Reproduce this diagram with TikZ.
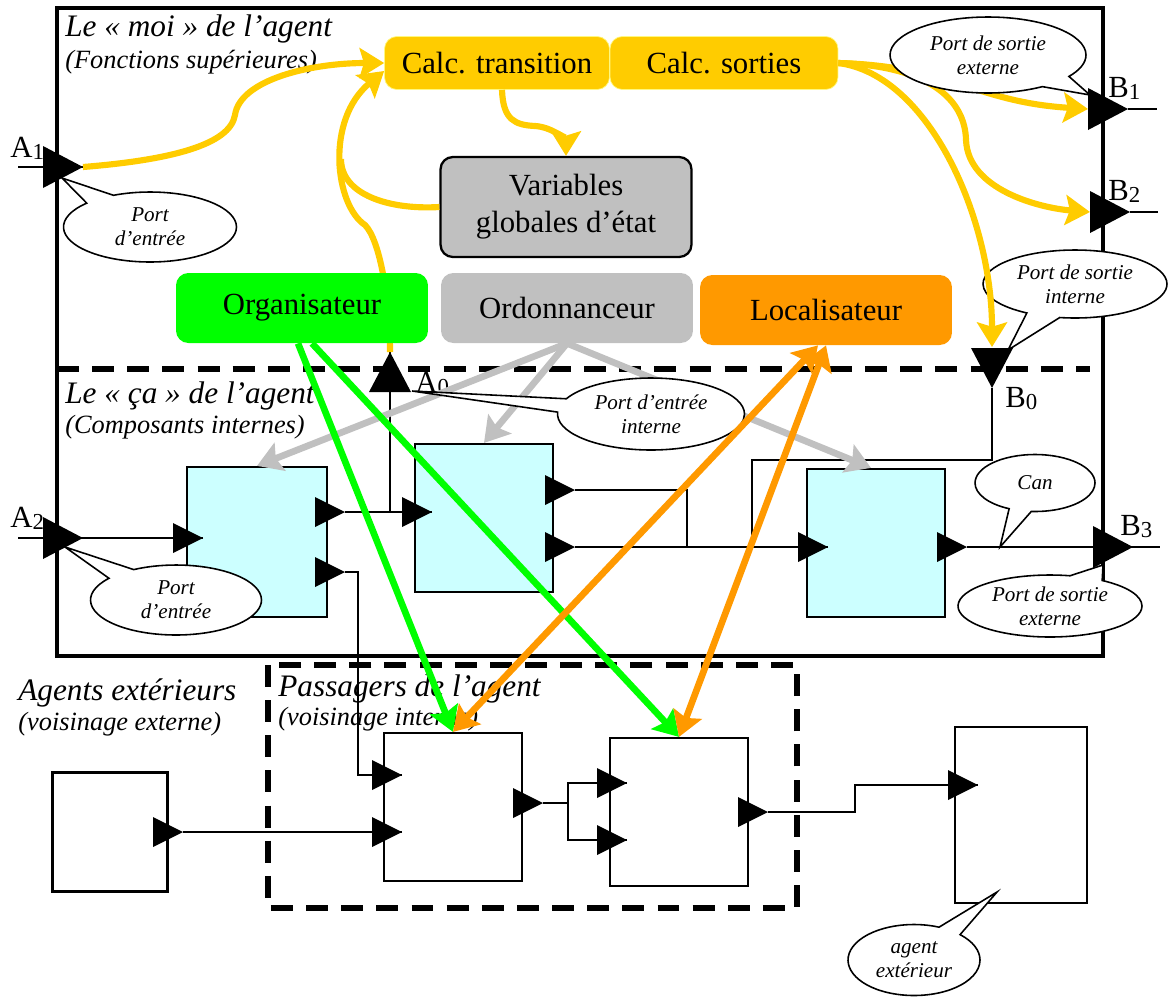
\documentclass[tikz,border=0pt]{standalone}
\usepackage{fontspec}
\setmainfont{Liberation Serif}
\usetikzlibrary{arrows.meta, shapes.callouts}
\definecolor{jauneCalc}{RGB}{255,204,0}
\definecolor{vertOrga}{RGB}{0,255,0}
\definecolor{orangeLoc}{RGB}{255,153,0}
\definecolor{grisOrdo}{RGB}{192,192,192}
\definecolor{cyanComp}{RGB}{204,255,255}
\newcommand{\indice}[1]{\raisebox{-1.5pt}{\fontsize{13}{13}\selectfont #1}}

\begin{document}
\begin{tikzpicture}[x=0.02cm, y=-0.02cm,
    fonction/.style={rounded corners=7pt, inner sep=0pt, minimum width=5.04cm, minimum height=1.4cm, align=center, font=\fontsize{17.5}{21}\selectfont},
    composant/.style={draw, line width=1.3pt, fill=cyanComp, minimum width=2.76cm, minimum height=2.96cm},
    agentbox/.style={draw, line width=1.3pt, fill=white, minimum width=2.76cm, minimum height=2.96cm},
    bulle/.style={ellipse callout, draw, fill=white, line width=0.9pt, callout pointer arc=22, inner sep=0pt, align=center, font=\fontsize{12}{13.5}\selectfont\itshape},
    titre/.style={anchor=base west, inner sep=0pt, font=\fontsize{17.8}{20}\selectfont\itshape},
    soustitre/.style={anchor=base west, inner sep=0pt, font=\fontsize{15}{18}\selectfont\itshape},
    port/.style={anchor=base west, inner sep=0pt, font=\fontsize{17.5}{20}\selectfont},
    fil/.style={line width=1pt},
    tiret/.style={line width=3.2pt, dash pattern=on 12.5pt off 7.5pt},
    jaune/.style={jauneCalc, line width=3.5pt, -{Stealth[length=14pt, width=17pt, inset=2.5pt]}},
    gris/.style={grisOrdo, line width=3.8pt, -{Stealth[length=14pt, width=17pt, inset=2.5pt]}},
    vert/.style={vertOrga, line width=3.8pt, -{Stealth[length=14pt, width=17pt, inset=2.5pt]}},
    orange/.style={orangeLoc, line width=3.8pt, {Stealth[length=14pt, width=17pt, inset=2.5pt]}-{Stealth[length=14pt, width=17pt, inset=2.5pt]}},
    portd/.pic={\fill (0,0) -- (-40,-21) -- (-40,21) -- cycle;},
    porth/.pic={\fill (0,0) -- (-21,40) -- (21,40) -- cycle;},
    portb/.pic={\fill (0,0) -- (-21,-40) -- (21,-40) -- cycle;},
    broche/.pic={\fill (0,0) -- (-30,-15) -- (-30,15) -- cycle;}]
    \useasboundingbox (0,0) rectangle (1168,998);

    % cadres
    \draw[line width=2.7pt] (57,8) rectangle (1103,656);
    \draw[tiret] (57,369) -- (1090,369);
    \draw[tiret] (268,665) rectangle (797,908);

    % titres
    \node[titre] (tMoi) at (65,36) {Le «~moi~» de l’agent};
    \node[soustitre] (sMoi) at (65,68) {(Fonctions supérieures)};
    \node[titre] (tCa) at (65,403) {Le «~ça~» de l’agent};
    \node[soustitre] (sCa) at (65,433) {(Composants internes)};
    \node[titre] (tExt) at (18,700) {Agents extérieurs};
    \node[soustitre] (sExt) at (18,730) {(voisinage externe)};
    \node[titre] (tPas) at (278,696) {Passagers de l’agent};
    \node[soustitre] (sPas) at (278,725) {(voisinage interne)};

    % composants, passagers, agents exterieurs
    \node[composant, minimum width=2.8cm, minimum height=3cm] (comp1) at (257,542) {};
    \node[composant] (comp2) at (484,518) {};
    \node[composant] (comp3) at (876,543) {};
    \node[agentbox] (pass1) at (453,807) {};
    \node[agentbox] (pass2) at (679,812) {};
    \node[agentbox, minimum width=2.3cm, minimum height=2.38cm] (ext1) at (110,832) {};
    \node[agentbox, minimum width=2.64cm, minimum height=3.52cm] (ext2) at (1021,815) {};

    % ports
    \coordinate (A1) at (83,167);   \coordinate (A1g) at (18,167);
    \coordinate (A2) at (83,538);   \coordinate (A2g) at (18,538);
    \coordinate (A0) at (390,352);
    \coordinate (B0) at (992,388);  \coordinate (B0h) at (992,347);
    \coordinate (B1) at (1128,109); \coordinate (B1d) at (1157,109); \coordinate (B1b) at (1088,109);
    \coordinate (B2) at (1130,212); \coordinate (B2d) at (1158,212); \coordinate (B2b) at (1090,212);
    \coordinate (B3) at (1133,547); \coordinate (B3d) at (1160,547);
    % broches
    \coordinate (c1e) at (203,538); \coordinate (c1s1) at (345,512); \coordinate (c1s2) at (345,572);
    \coordinate (c2e) at (432,512); \coordinate (c2s1) at (575,490); \coordinate (c2s2) at (575,547);
    \coordinate (c3e) at (828,547); \coordinate (c3s) at (967,547);
    \coordinate (p1e1) at (402,775); \coordinate (p1e2) at (402,832); \coordinate (p1s) at (543,803);
    \coordinate (p2e1) at (627,783); \coordinate (p2e2) at (627,840); \coordinate (p2s) at (768,812);
    \coordinate (x1s) at (183,832); \coordinate (x2e) at (978,785);

    % liaisons
    \draw[fil] (A1g) -- (A1);
    \draw[fil] (A2g) -- (A2) -- (c1e);
    \draw[fil] (c1s1) -- (c2e);
    \draw[fil] (A0) -- (A0 |- c2e);
    \draw[fil] (c1s2) -- ++(13,0) |- (p1e1);
    \draw[fil] (c2s1) -- (687,490) -- (687,547);
    \draw[fil] (c2s2) -- (c3e);
    \draw[fil] (B0) -- (992,460) -| (752,547);
    \draw[fil] (c3s) -- (B3) -- (B3d);
    \draw[fil] (B1) -- (B1d);
    \draw[fil] (B2) -- (B2d);
    \draw[fil] (x1s) -- (p1e2);
    \draw[fil] (p1s) -- (568,803) |- (p2e1);
    \draw[fil] (568,803) |- (p2e2);
    \draw[fil] (p2s) -- (855,812) |- (x2e);

    \foreach \p in {c1e,c1s1,c1s2,c2e,c2s1,c2s2,c3e,c3s,p1e1,p1e2,p1s,p2e1,p2e2,p2s,x1s,x2e}
        \pic at (\p) {broche};
    \foreach \p in {A1,A2,B1,B2,B3}
        \pic at (\p) {portd};
    \pic at (A0) {porth};
    \pic at (B0) {portb};

    \node[port] (lA1) at (10,157) {A\indice{1}};
    \node[port] (lA2) at (10,527) {A\indice{2}};
    \node[port] (lA0) at (415,392) {A\indice{0}};
    \node[port] (lB0) at (1005,407) {B\indice{0}};
    \node[port] (lB1) at (1108,97) {B\indice{1}};
    \node[port] (lB2) at (1108,200) {B\indice{2}};
    \node[port] (lB3) at (1120,535) {B\indice{3}};

    \node[bulle, minimum width=3.68cm, minimum height=1.36cm, callout absolute pointer={(1008,350)}] (bB0) at (1075,284) {Port de sortie\\interne};

    % fonctions superieures
    \node[fonction, fill=jauneCalc, draw=yellow!50, minimum width=4.5cm, minimum height=1.06cm] (calcT) at (497,63) {Calc. transition};
    \node[fonction, fill=jauneCalc, draw=yellow!50, minimum width=4.56cm, minimum height=1.06cm] (calcS) at (724,63) {Calc. sorties};
    \node[fonction, fill=grisOrdo, draw, line width=1.3pt, minimum width=5.02cm, minimum height=2cm] (vars) at (566,207) {Variables\\globales d’état};

    \draw[jaune] (A1) .. controls (170,160) and (230,145) .. (235,115) .. controls (240,80) and (310,63) .. (calcT.west);
    \draw[jaune] (A0) .. controls (390,300) and (380,240) .. (365,225) .. controls (335,205) and (325,120) .. ([yshift=-0.16cm]calcT.west);
    \draw[jaune, -] (vars.west) .. controls (390,210) and (341,195) .. (341,159);
    \draw[jaune] ([xshift=0.1cm]calcT.south) .. controls (503,120) and (515,125) .. (535,126) .. controls (552,127) and (566,140) .. (vars.north);
    \draw[jaune] (calcS.east) .. controls (950,66) and (975,102) .. (B1b);
    \draw[jaune] (calcS.east) .. controls (930,66) and (965,100) .. (966,140) .. controls (968,190) and (1040,208) .. (B2b);
    \draw[jaune] (calcS.east) .. controls (930,75) and (992,220) .. (B0h);

    \node[fonction, fill=vertOrga] (orga) at (302,308) {Organisateur};
    \node[fonction, fill=grisOrdo] (ordo) at (567,308) {Ordonnanceur};
    \node[fonction, fill=orangeLoc] (loca) at (826,310) {Localisateur};

    \draw[gris] (ordo.south) -- (comp1.north);
    \draw[gris] (ordo.south) -- (comp2.north);
    \draw[gris] (ordo.south) -- ([xshift=-0.1cm]comp3.north);

    % bulles
    \node[bulle, minimum width=3.46cm, minimum height=1.4cm, callout absolute pointer={(62,178)}] (bA1) at (150,227) {Port\\d’entrée};
    \node[bulle, minimum width=3.42cm, minimum height=1.4cm, callout absolute pointer={(65,547)}] (bA2) at (176,600) {Port\\d’entrée};
    \node[bulle, minimum width=3.74cm, minimum height=1.44cm, callout absolute pointer={(412,391)}] (bA0) at (651,414) {Port d’entrée\\interne};
    \node[bulle, minimum width=3.92cm, minimum height=1.52cm, callout absolute pointer={(1090,95)}] (bB1) at (988,55) {Port de sortie\\externe};
    \node[bulle, minimum width=2.4cm, minimum height=1.14cm, callout absolute pointer={(1000,547)}] (bCan) at (1035,483) {Can};
    \node[bulle, minimum width=3.68cm, minimum height=1.24cm, callout absolute pointer={(1103,565)}] (bB3) at (1050,606) {Port de sortie\\externe};
    \node[bulle, minimum width=2.64cm, minimum height=1.42cm, callout absolute pointer={(997,892)}] (bExt) at (914,960) {agent\\extérieur};

    \draw[vert] ([xshift=-0.08cm]orga.south) -- (pass1.north);
    \draw[vert] ([xshift=0.2cm]orga.south) -- (pass2.north);
    \draw[orange] ([xshift=-0.16cm]loca.south) -- (pass1.north);
    \draw[orange] (loca.south) -- (pass2.north);
\end{tikzpicture}
\end{document}
